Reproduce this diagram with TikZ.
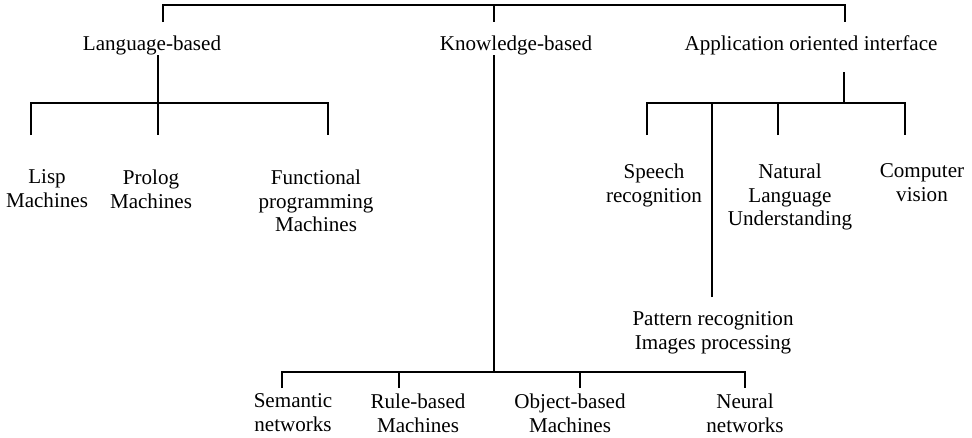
\documentclass[tikz,border=0pt]{standalone}
\usepackage{fontspec}
\setmainfont{Liberation Serif}
\usepackage{tikz}
\usetikzlibrary{positioning}

\begin{document}
\begin{tikzpicture}[
	x=0.02cm, y=-0.02cm,
	line width=1pt,
	font=\fontsize{12}{13.4}\selectfont
]
\tikzset{
    labelnode/.style = {align=center, inner sep=0pt, anchor=north, text=black},
}
\useasboundingbox (0,0) rectangle (972,437);
\node[labelnode] (lang) at (152,35) {Language-based};
\node[labelnode] (know) at (516,35) {Knowledge-based};
\node[labelnode] (app) at (811,35) {Application oriented interface};
\node[labelnode] (lisp) at (47,169) {Lisp\\Machines};
\node[labelnode] (prolog) at (151,169) {Prolog\\Machines};
\node[labelnode] (func) at (316,169) {Functional\\programming\\Machines};
\node[labelnode] (speech) at (654,163) {Speech\\recognition};
\node[labelnode] (nat) at (790,163) {Natural\\Language\\Understanding};
\node[labelnode] (vision) at (922,163) {Computer\\vision};
\node[labelnode] (pat) at (713,311) {Pattern recognition\\Images processing};
\node[labelnode] (sem) at (293,393) {Semantic\\networks};
\node[labelnode] (rule) at (418,393) {Rule-based\\Machines};
\node[labelnode] (obj) at (570,393) {Object-based\\Machines};
\node[labelnode] (neur) at (745,393) {Neural\\networks};

\coordinate (root) at (494,5);
\coordinate (langtop) at (163,22);
\coordinate (knowtop) at (494,22);
\coordinate (apptop) at (845,22);
\draw (langtop) |- (root) -| (apptop);
\draw (root) -- (knowtop);

\coordinate (langstem) at (158,55);
\coordinate (langbar) at (158,103);
\coordinate (lispup) at (31,135);
\coordinate (prologup) at (158,135);
\coordinate (funcup) at (328,135);
\draw (langstem) -- (langbar);
\draw (lispup) |- (langbar) -| (funcup);
\draw (langbar) -- (prologup);

\coordinate (knowstem) at (494,55);
\coordinate (knowbar) at (494,372);
\coordinate (semup) at (282,388);
\coordinate (ruleup) at (399,388);
\coordinate (objup) at (580,388);
\coordinate (neurup) at (745,388);
\draw (knowstem) -- (knowbar);
\draw (semup) |- (knowbar) -| (neurup);
\draw (ruleup) -- (ruleup |- knowbar);
\draw (objup) -- (objup |- knowbar);

\coordinate (appstem) at (844,72);
\coordinate (appbar) at (844,103);
\coordinate (speechup) at (647,135);
\coordinate (patup) at (712,297);
\coordinate (natup) at (778,135);
\coordinate (visionup) at (905,135);
\draw (appstem) -- (appbar);
\draw (speechup) |- (appbar) -| (visionup);
\draw (patup) -- (patup |- appbar);
\draw (natup) -- (natup |- appbar);
\end{tikzpicture}
\end{document}
